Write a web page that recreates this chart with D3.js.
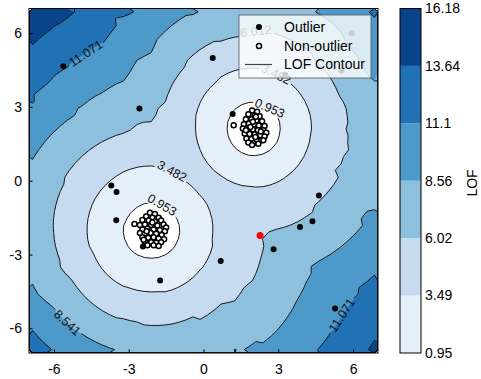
<!DOCTYPE html>
<html>
<head>
<meta charset="utf-8">
<script src="https://cdn.jsdelivr.net/npm/d3@7"></script>
<style>
  body { margin: 0; background: #fff; }
  text { font-family: "Liberation Sans", Arial, sans-serif; }
</style>
</head>
<body>
<div id="chart"></div>
<script>
// --- data ---
const clusterLow = [
  [-2.15,-1.30],[-1.95,-1.35],[-2.30,-1.45],[-2.05,-1.50],[-1.80,-1.50],[-2.45,-1.60],[-2.20,-1.62],[-1.95,-1.65],
  [-1.70,-1.62],[-2.55,-1.80],[-2.35,-1.78],[-2.10,-1.80],[-1.85,-1.82],[-1.60,-1.78],[-1.50,-1.90],[-2.45,-1.98],
  [-2.25,-1.95],[-2.00,-1.98],[-1.75,-2.00],[-1.55,-2.05],[-2.55,-2.12],[-2.35,-2.15],[-2.12,-2.12],[-1.90,-2.15],
  [-1.68,-2.20],[-2.45,-2.30],[-2.22,-2.32],[-2.00,-2.30],[-1.80,-2.35],[-1.58,-2.38],[-2.35,-2.48],[-2.10,-2.50],
  [-1.90,-2.52],[-1.70,-2.50],[-2.25,-2.62],[-2.00,-2.62],[-1.80,-2.65],[-2.40,-2.40],[-2.05,-1.70],[-2.28,-2.05]
];
const clusterHigh = [
  [1.95,2.85],[2.15,2.80],[1.80,2.70],[2.05,2.65],[2.25,2.62],[1.70,2.50],[1.92,2.50],[2.12,2.45],
  [2.35,2.42],[1.62,2.30],[1.82,2.32],[2.02,2.28],[2.22,2.25],[2.45,2.22],[1.58,2.12],[1.78,2.10],
  [1.98,2.08],[2.18,2.05],[2.40,2.05],[2.52,1.95],[1.65,1.92],[1.85,1.90],[2.05,1.88],[2.28,1.85],
  [2.45,1.80],[1.72,1.72],[1.92,1.70],[2.12,1.68],[2.32,1.65],[1.80,1.55],[2.00,1.52],[2.20,1.50],
  [1.95,1.45],[2.10,2.60],[1.88,2.18],[2.30,2.00],[1.70,2.05],[2.08,1.78],[2.40,1.65],[1.98,2.40]
];
const edgeInliers = [[-2.77,-1.76],[1.21,2.26]];
const outliers = [
  [-5.62,4.65],[-2.57,2.94],[0.37,4.99],[1.17,2.71],[3.27,4.32],[5.53,4.47],[5.94,5.99],
  [-3.70,-0.19],[-3.49,-0.46],[-3.50,-1.61],[-2.43,-2.67],[-1.74,-4.05],[0.69,-3.26],
  [2.81,-2.78],[3.87,-1.88],[4.37,-1.65],[4.63,-0.60],[5.28,-5.19]
];
const highlight = [[2.27,-2.22]];

const fillLevels = [0.953, 3.491, 6.029, 8.567, 11.104, 13.642, 16.18];
const lineLevels = [0.953, 3.482, 6.012, 8.541, 11.071, 13.6];
const bandColors = ["#e5eff9", "#c6dbef", "#8dc0dd", "#4d99ca", "#2171b5", "#084489"];
const cbTickLabels = ["0.95", "3.49", "6.02", "8.56", "11.1", "13.64", "16.18"];
const xTicks = [-6, -3, 0, 3, 6];
const yTicks = [-6, -3, 0, 3, 6];
const contourLabels = [
  { level: 11.071, at: [-4.7, 5.1] },
  { level: 0.953, at: [2.73, 3.17] },
  { level: 0.953, at: [-1.6, -0.78] },
  { level: 3.482, at: [-1.28, 0.4] },
  { level: 8.541, at: [-5.0, -5.45] },
  { level: 11.071, at: [5.52, -5.28] },
  { level: 6.012, at: [2.13, 6.26] },
  { level: 3.482, at: [2.89, 4.43] }
];

// LOF settings; the score is mapped linearly onto the colour-bar scale
const nNeighbors = 30, gridN = 50;
const lofScale = 1.704, lofShift = -1.35;

// --- layout ---
const W = 481, H = 379;
const x = d3.scaleLinear().domain([-7, 7]).range([29, 378]);
const y = d3.scaleLinear().domain([-7, 7]).range([353, 8.5]);

const svg = d3.select("#chart").append("svg").attr("width", W).attr("height", H);

// --- LOF field on a grid ---
const train = clusterLow.concat(clusterHigh, edgeInliers, outliers, highlight);
const dist = (a, b) => Math.hypot(a[0] - b[0], a[1] - b[1]);
function nearest(p, skip) {
  const ds = [];
  train.forEach((q, i) => { if (i !== skip) ds.push([dist(p, q), i]); });
  ds.sort((a, b) => a[0] - b[0]);
  return ds.slice(0, nNeighbors);
}
const nb = train.map((p, i) => nearest(p, i));
const kdist = nb.map(l => l[l.length - 1][0]);
const lrd = nb.map(l => 1 / d3.mean(l, ([d, j]) => Math.max(kdist[j], d)));
function lof(p) {
  const l = nearest(p, -1);
  const reach = d3.mean(l, ([d, j]) => Math.max(kdist[j], d));
  return d3.mean(l, ([d, j]) => lrd[j]) * reach;
}
const cell = 14 / gridN;
const values = new Array(gridN * gridN);
for (let j = 0; j < gridN; j++) {
  for (let i = 0; i < gridN; i++) {
    values[j * gridN + i] = lofScale * lof([-7 + (i + 0.5) * cell, -7 + (j + 0.5) * cell]) + lofShift;
  }
}

const contours = d3.contours().size([gridN, gridN]);
const toPx = (c) => [x(-7 + c[0] * cell), y(-7 + c[1] * cell)];
const gpath = d3.geoPath(d3.geoTransform({
  point(px, py) { const p = toPx([px, py]); this.stream.point(p[0], p[1]); }
}));

svg.append("clipPath").attr("id", "plotClip")
  .append("rect").attr("x", 29).attr("y", 8.5).attr("width", 349).attr("height", 344.5);

const plot = svg.append("g").attr("clip-path", "url(#plotClip)");

bandColors.forEach((c, i) => {
  plot.append("path")
    .attr("d", gpath(contours.contour(values, fillLevels[i])))
    .attr("fill", c);
});

// labels + mask that cuts the lines under them
const mask = svg.append("mask").attr("id", "lblMask").attr("maskUnits", "userSpaceOnUse")
  .attr("x", 0).attr("y", 0).attr("width", W).attr("height", H);
mask.append("rect").attr("width", W).attr("height", H).attr("fill", "#fff");

const lines = plot.append("g").attr("mask", "url(#lblMask)");
lineLevels.forEach(lv => {
  lines.append("path")
    .attr("d", gpath(contours.contour(values, lv)))
    .attr("fill", "none")
    .attr("stroke", "#000")
    .attr("stroke-width", 0.9);
});

const lblG = plot.append("g");
contourLabels.forEach(lb => {
  const mp = contours.contour(values, lb.level);
  const target = [x(lb.at[0]), y(lb.at[1])];
  let best = null;
  mp.coordinates.forEach(poly => poly.forEach(ring => {
    ring.forEach((c, k) => {
      if (c[0] <= 0.5 || c[0] >= gridN - 0.5 || c[1] <= 0.5 || c[1] >= gridN - 0.5) return;
      const p = toPx(c);
      const d = Math.hypot(p[0] - target[0], p[1] - target[1]);
      if (!best || d < best.d) best = { d, ring, k, p };
    });
  }));
  if (!best) return;
  const n = best.ring.length;
  const a = toPx(best.ring[(best.k - 2 + n) % n]);
  const b = toPx(best.ring[(best.k + 2) % n]);
  let ang = Math.atan2(b[1] - a[1], b[0] - a[0]) * 180 / Math.PI;
  if (ang > 90) ang -= 180;
  if (ang < -90) ang += 180;
  const tr = `translate(${best.p[0]},${best.p[1]}) rotate(${ang})`;
  const t = lblG.append("text")
    .attr("transform", tr)
    .attr("text-anchor", "middle")
    .attr("dy", "0.35em")
    .attr("font-size", 12.5)
    .attr("fill", "#111")
    .text(String(lb.level));
  const w = t.node().getComputedTextLength() + 4;
  mask.append("rect")
    .attr("x", -w / 2).attr("y", -6).attr("width", w).attr("height", 12)
    .attr("transform", tr)
    .attr("fill", "#000");
});

// points
plot.append("g").selectAll("circle")
  .data(clusterLow.concat(clusterHigh, edgeInliers))
  .join("circle")
  .attr("cx", d => x(d[0])).attr("cy", d => y(d[1]))
  .attr("r", 2.5)
  .attr("fill", "#fff").attr("stroke", "#000").attr("stroke-width", 1.5);

plot.append("g").selectAll("circle")
  .data(outliers)
  .join("circle")
  .attr("cx", d => x(d[0])).attr("cy", d => y(d[1]))
  .attr("r", 3).attr("fill", "#000");

plot.append("g").selectAll("circle")
  .data(highlight)
  .join("circle")
  .attr("cx", d => x(d[0])).attr("cy", d => y(d[1]))
  .attr("r", 3.5).attr("fill", "red");

// frame and ticks
svg.append("rect").attr("x", 29).attr("y", 8.5).attr("width", 349).attr("height", 344.5)
  .attr("fill", "none").attr("stroke", "#000").attr("stroke-width", 1);

svg.append("g").attr("transform", "translate(0,353)")
  .call(d3.axisBottom(x).tickValues(xTicks).tickSize(-3.5).tickFormat(d => String(d)))
  .call(g => g.select(".domain").remove())
  .call(g => g.selectAll("text").attr("dy", "1.25em").attr("font-size", 14).attr("font-family", null).attr("fill", "#000"));

svg.append("g").attr("transform", "translate(29,0)")
  .call(d3.axisLeft(y).tickValues(yTicks).tickSize(-3.5).tickFormat(d => String(d)))
  .call(g => g.select(".domain").remove())
  .call(g => g.selectAll("text").attr("x", -7).attr("font-size", 14).attr("font-family", null).attr("fill", "#000"));

// legend
const lg = svg.append("g");
lg.append("rect").attr("x", 239).attr("y", 15).attr("width", 132).attr("height", 63)
  .attr("fill", "#fff").attr("fill-opacity", 0.8).attr("stroke", "#555").attr("stroke-width", 0.8);
lg.append("circle").attr("cx", 259).attr("cy", 27).attr("r", 3).attr("fill", "#000");
lg.append("circle").attr("cx", 259).attr("cy", 46).attr("r", 2.5)
  .attr("fill", "#fff").attr("stroke", "#000").attr("stroke-width", 1.5);
lg.append("line").attr("x1", 245).attr("x2", 272).attr("y1", 64.5).attr("y2", 64.5)
  .attr("stroke", "#444").attr("stroke-width", 1.2);
[["Outlier", 27], ["Non-outlier", 46], ["LOF Contour", 64.5]].forEach(([s, yy]) => {
  lg.append("text").attr("x", 284).attr("y", yy).attr("dy", "0.35em").attr("font-size", 14).text(s);
});

// colorbar
const cb = d3.scaleLinear().domain([0, 6]).range([353, 8.5]);
const cbG = svg.append("g");
bandColors.forEach((c, i) => {
  cbG.append("rect").attr("x", 400).attr("width", 21)
    .attr("y", cb(i + 1)).attr("height", cb(i) - cb(i + 1)).attr("fill", c);
});
cbG.append("rect").attr("x", 400).attr("y", 8.5).attr("width", 21).attr("height", 344.5)
  .attr("fill", "none").attr("stroke", "#000").attr("stroke-width", 1);
cbTickLabels.forEach((s, i) => {
  cbG.append("text").attr("x", 425).attr("y", cb(i)).attr("dy", "0.35em").attr("font-size", 14).text(s);
});
svg.append("text").attr("transform", "translate(472,183) rotate(-90)")
  .attr("text-anchor", "middle").attr("dy", "0.35em").attr("font-size", 14).text("LOF");
</script>
</body>
</html>
